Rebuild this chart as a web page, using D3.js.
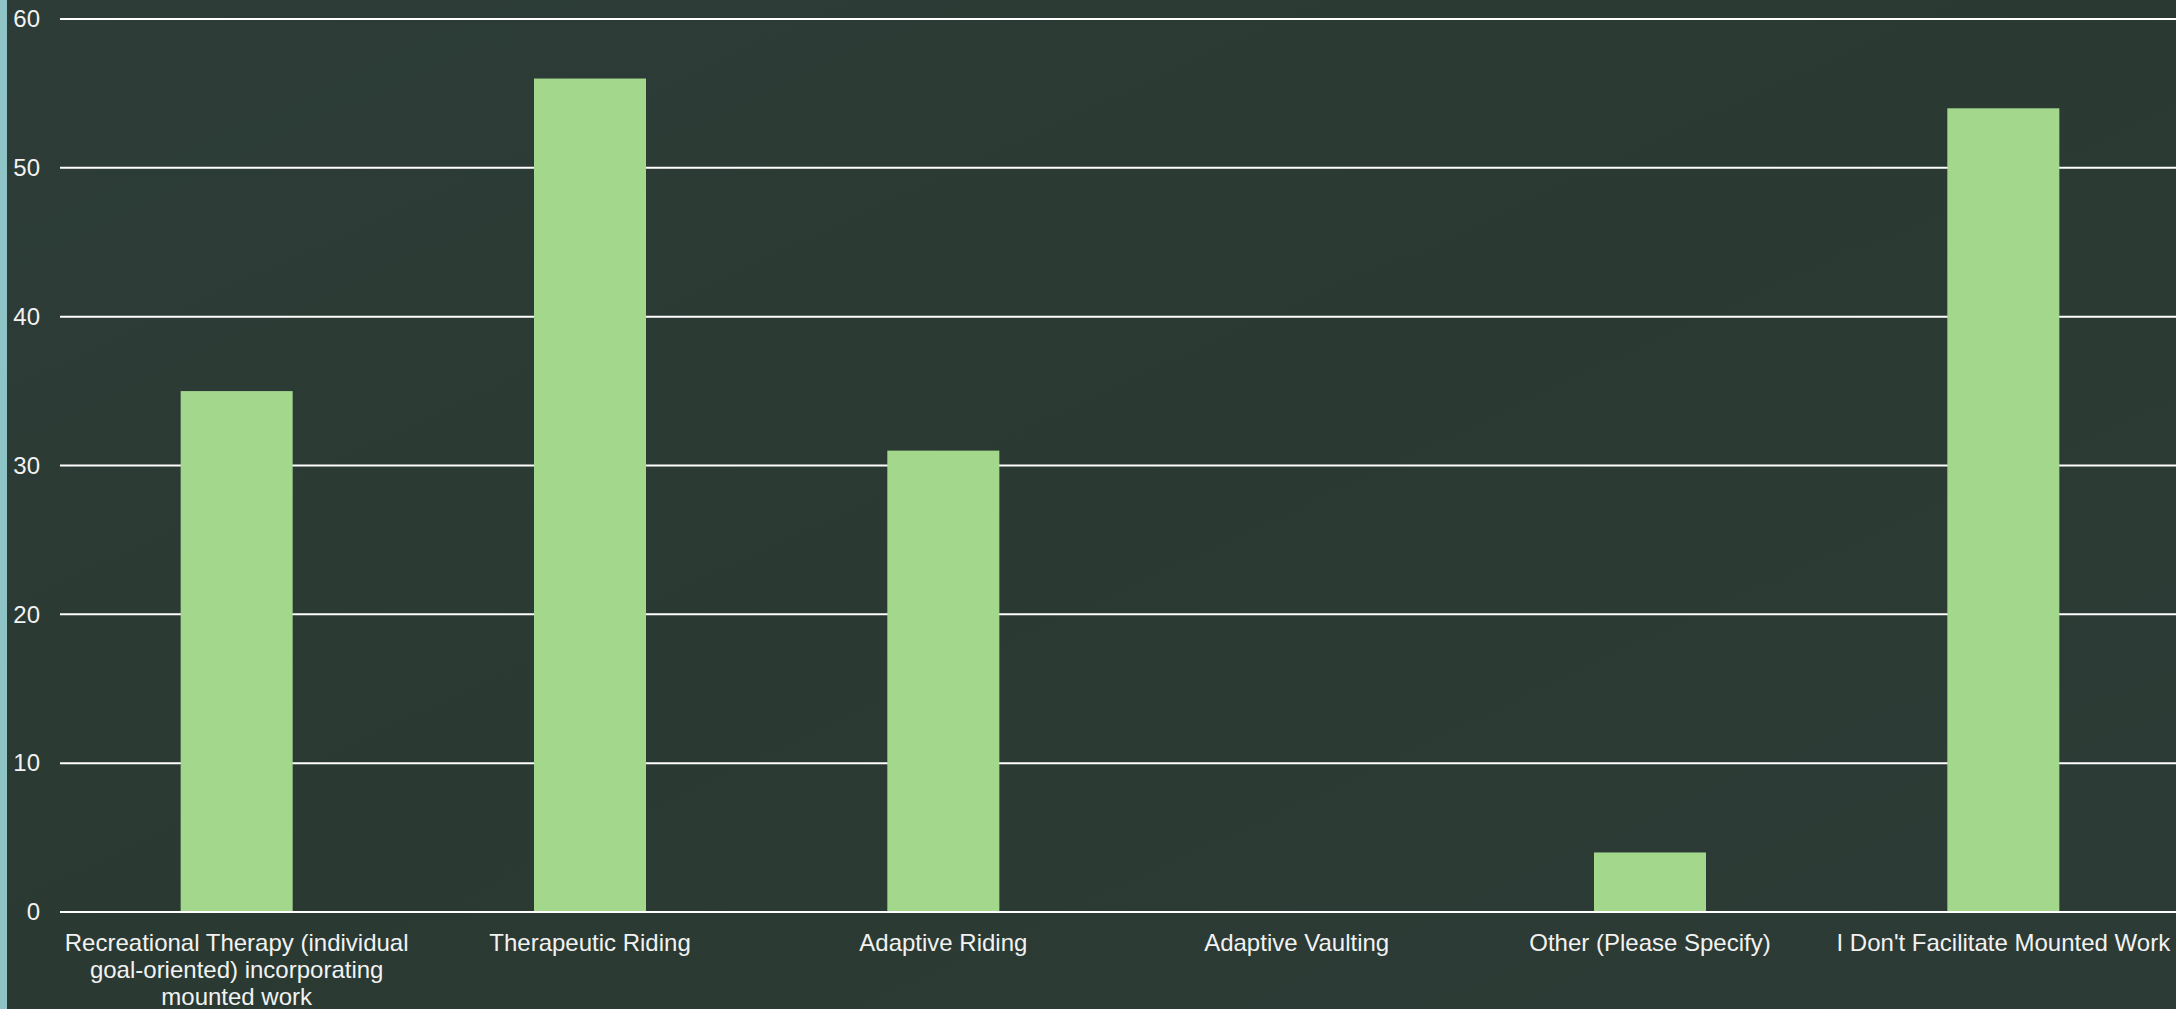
<!DOCTYPE html>
<html>
<head>
<meta charset="utf-8">
<script src="https://cdn.jsdelivr.net/npm/d3@7"></script>
<style>
  html, body { margin: 0; padding: 0; background: #2c3b35; overflow: hidden; }
  svg { display: block; }
</style>
</head>
<body>
<svg id="chart" width="2176" height="1009"></svg>
<script>
const categories = [
  "Recreational Therapy (individual goal-oriented) incorporating mounted work",
  "Therapeutic Riding",
  "Adaptive Riding",
  "Adaptive Vaulting",
  "Other (Please Specify)",
  "I Don't Facilitate Mounted Work"
];
const values = [35, 56, 31, 0, 4, 54];
const yTicks = [0, 10, 20, 30, 40, 50, 60];

const W = 2176, H = 1009;
const margin = { left: 60, right: -4, top: 19, bottom: 97 };

const svg = d3.select("#chart");

// background
const defs = svg.append("defs");
const grad = defs.append("linearGradient").attr("id", "bg").attr("x1", "0").attr("y1", "0").attr("x2", "1").attr("y2", "1");
grad.append("stop").attr("offset", "0%").attr("stop-color", "#2d3c37");
grad.append("stop").attr("offset", "50%").attr("stop-color", "#2a3a32");
grad.append("stop").attr("offset", "100%").attr("stop-color", "#2d3b36");
svg.append("rect").attr("width", W).attr("height", H).attr("fill", "url(#bg)");
svg.append("rect").attr("width", 7).attr("height", H).attr("fill", "#8fc4c7");

const x = d3.scaleBand()
  .domain(categories)
  .range([margin.left, W - margin.right])
  .paddingInner(0.683)
  .paddingOuter(0.3415);

const y = d3.scaleLinear()
  .domain([0, 60])
  .range([H - margin.bottom, margin.top]);

// gridlines
svg.append("g")
  .selectAll("line")
  .data(yTicks)
  .join("line")
  .attr("x1", margin.left)
  .attr("x2", W)
  .attr("y1", d => y(d))
  .attr("y2", d => y(d))
  .attr("stroke", "#ffffff")
  .attr("stroke-width", 2);

// y axis labels
const yAxis = d3.axisLeft(y).tickValues(yTicks).tickSize(0).tickPadding(0);
const gy = svg.append("g").attr("transform", `translate(40,0)`).call(yAxis);
gy.select(".domain").remove();
gy.selectAll("text")
  .attr("fill", "#f2f2f2")
  .style("font-family", "'Liberation Sans', Arial, sans-serif")
  .style("font-size", "24px");

// bars
svg.append("g")
  .selectAll("rect")
  .data(values)
  .join("rect")
  .attr("x", (d, i) => x(categories[i]))
  .attr("width", x.bandwidth())
  .attr("y", d => y(d))
  .attr("height", d => y(0) - y(d))
  .attr("fill", "#a3d78c");

// redraw zero line above bars
svg.append("line")
  .attr("x1", margin.left).attr("x2", W)
  .attr("y1", y(0)).attr("y2", y(0))
  .attr("stroke", "#ffffff").attr("stroke-width", 2);

// x axis labels
const xAxis = d3.axisBottom(x).tickSize(0).tickPadding(0);
const gx = svg.append("g").attr("transform", `translate(0,${y(0) + 22})`).call(xAxis);
gx.select(".domain").remove();
gx.selectAll("text")
  .attr("fill", "#f2f2f2")
  .attr("dy", "0.71em")
  .style("font-family", "'Liberation Sans', Arial, sans-serif")
  .style("font-size", "24px")
  .call(wrap, x.step() - 4);

function wrap(texts, width) {
  texts.each(function() {
    const text = d3.select(this);
    const words = text.text().split(/\s+/);
    const dy = parseFloat(text.attr("dy")) || 0;
    text.text(null);
    let line = [];
    let lineNumber = 0;
    const lineHeight = 1.13;
    let tspan = text.append("tspan").attr("x", 0).attr("y", 0).attr("dy", dy + "em");
    for (const word of words) {
      line.push(word);
      tspan.text(line.join(" "));
      if (tspan.node().getComputedTextLength() > width && line.length > 1) {
        line.pop();
        tspan.text(line.join(" "));
        line = [word];
        tspan = text.append("tspan").attr("x", 0).attr("y", 0)
          .attr("dy", (++lineNumber * lineHeight + dy) + "em").text(word);
      }
    }
  });
}
</script>
</body>
</html>
